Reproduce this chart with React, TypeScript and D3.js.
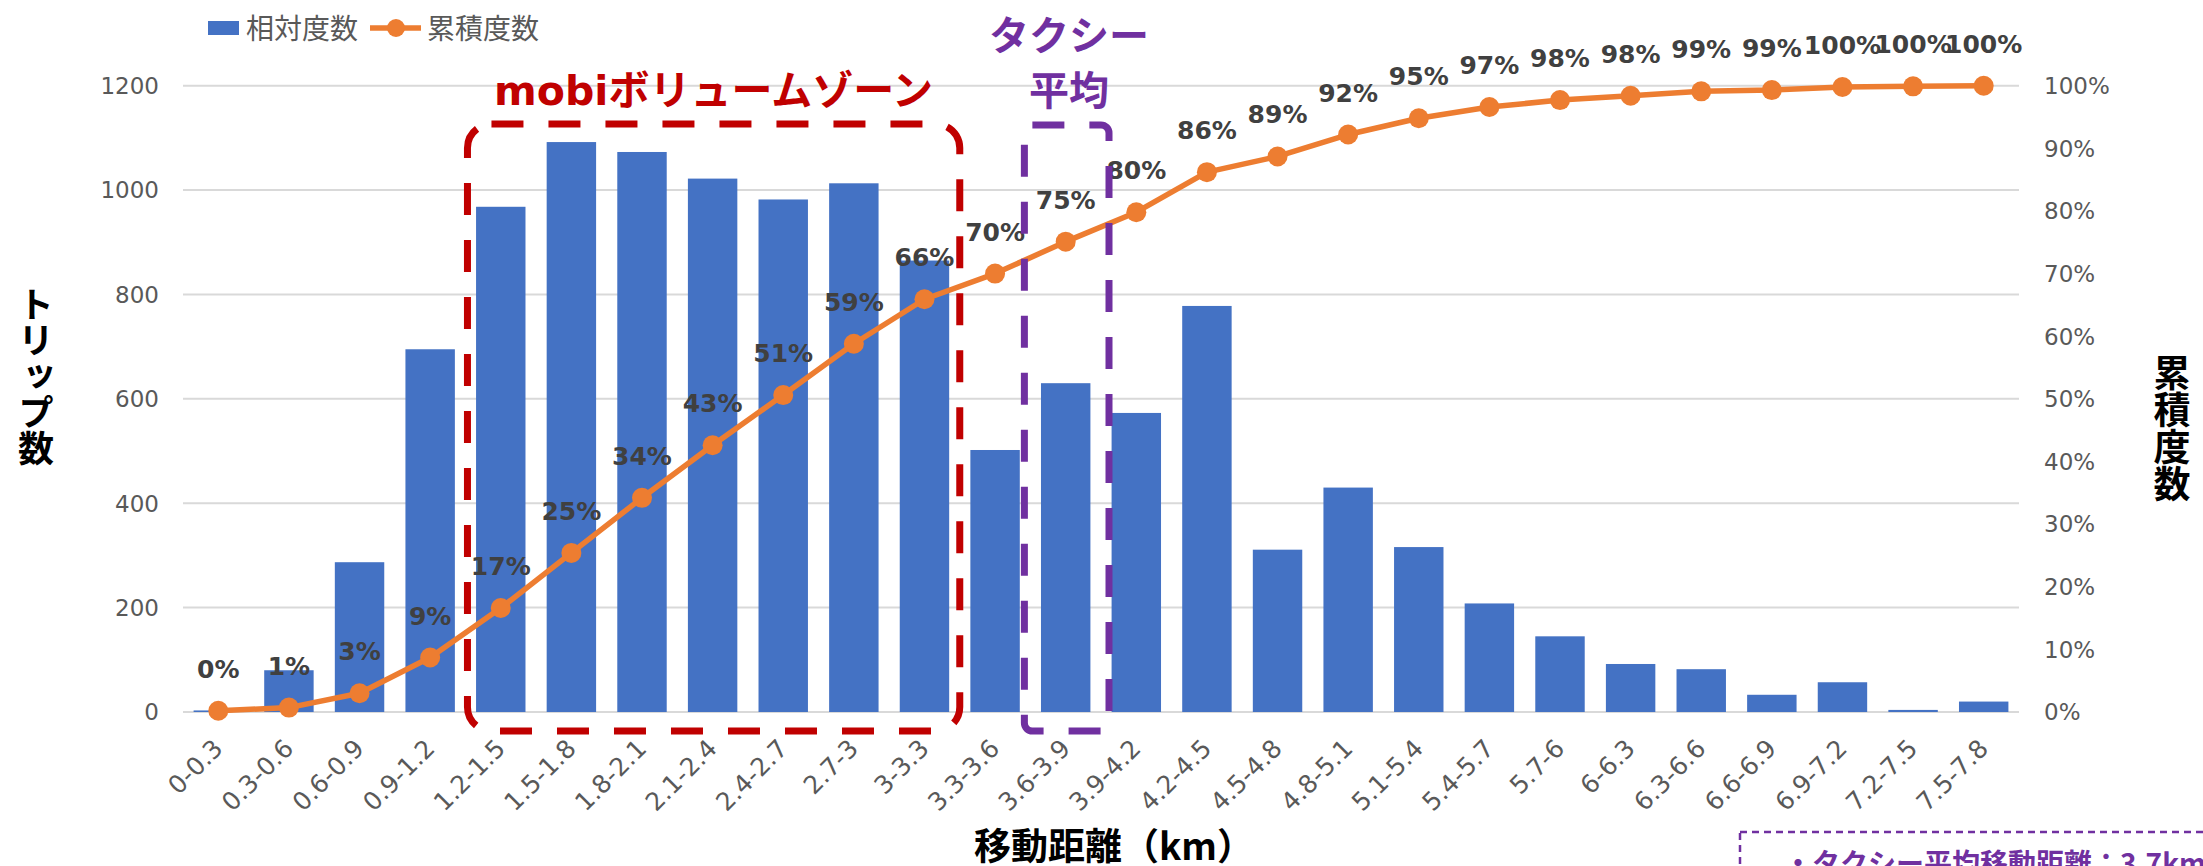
import React from "react";
import * as d3 from "d3";

const categories = ["0-0.3","0.3-0.6","0.6-0.9","0.9-1.2","1.2-1.5","1.5-1.8","1.8-2.1","2.1-2.4","2.4-2.7","2.7-3","3-3.3","3.3-3.6","3.6-3.9","3.9-4.2","4.2-4.5","4.5-4.8","4.8-5.1","5.1-5.4","5.4-5.7","5.7-6","6-6.3","6.3-6.6","6.6-6.9","6.9-7.2","7.2-7.5","7.5-7.8"];
const counts = [3, 80, 287, 695, 968, 1092, 1073, 1022, 982, 1013, 865, 502, 630, 573, 778, 311, 430, 316, 208, 145, 92, 82, 33, 57, 4, 20];
const cumulative = [0.002, 0.007, 0.030, 0.087, 0.166, 0.254, 0.342, 0.426, 0.506, 0.588, 0.659, 0.700, 0.751, 0.798, 0.862, 0.887, 0.922, 0.948, 0.966, 0.977, 0.984, 0.991, 0.993, 0.998, 0.999, 1.0];
const leftTicks = [0, 200, 400, 600, 800, 1000, 1200];
const rightTicks = [0, 0.1, 0.2, 0.3, 0.4, 0.5, 0.6, 0.7, 0.8, 0.9, 1.0];

const W = 2203, H = 866;
const M = { left: 183, right: 2019, top: 85.7, bottom: 712 };
const BLUE = "#4472C4", ORANGE = "#ED7D31", GRID = "#D9D9D9", TICK = "#595959";
const RED = "#C00000", PURPLE = "#7030A0";
const LATIN = "'DejaVu Sans', 'Noto Sans CJK JP', sans-serif";
const CJK = "'Noto Sans CJK JP', sans-serif";

export default function App() {
  const x = d3.scaleBand<string>().domain(categories).range([M.left, M.right]).paddingInner(0.3).paddingOuter(0.15);
  const step = x.step();
  const cx = (c: string) => (x(c) as number) + x.bandwidth() / 2;
  const yL = d3.scaleLinear().domain([0, 1200]).range([M.bottom, M.top]);
  const yR = d3.scaleLinear().domain([0, 1]).range([M.bottom, M.top]);
  const line = d3.line<number>().x((_, i) => cx(categories[i])).y((d) => yR(d));
  const pct = d3.format(".0%");

  // annotation boxes, anchored to category bands
  const redL = M.left + 4 * step + 2, redR = M.left + 11 * step;
  const purL = M.left + 12 * step - 6, purR = M.left + 13 * step + 8;

  return (
    <svg width={W} height={H} style={{ display: "block", position: "absolute", left: 0, top: 0, background: "#fff" }}>
      {/* gridlines */}
      {leftTicks.map((t) => (
        <line key={t} x1={M.left} x2={M.right} y1={yL(t)} y2={yL(t)} stroke={GRID} strokeWidth={2} />
      ))}
      {/* left ticks */}
      {leftTicks.map((t) => (
        <text key={t} x={159} y={yL(t)} dy="0.36em" textAnchor="end" fontFamily={LATIN} fontSize={23} fill={TICK}>{t}</text>
      ))}
      {/* right ticks */}
      {rightTicks.map((t) => (
        <text key={t} x={2044} y={yR(t)} dy="0.36em" textAnchor="start" fontFamily={LATIN} fontSize={23} fill={TICK}>{pct(t)}</text>
      ))}
      {/* bars */}
      {counts.map((v, i) => (
        <rect key={i} x={x(categories[i])} y={yL(v)} width={x.bandwidth()} height={yL(0) - yL(v)} fill={BLUE} />
      ))}
      {/* x tick labels */}
      {categories.map((c) => (
        <text key={c} transform={`translate(${cx(c) + 6},${750}) rotate(-45)`} textAnchor="end" fontFamily={LATIN} fontSize={25} fill={TICK}>{c}</text>
      ))}
      {/* cumulative line */}
      <path d={line(cumulative) as string} fill="none" stroke={ORANGE} strokeWidth={5.5} strokeLinejoin="round" />
      {cumulative.map((v, i) => (
        <circle key={i} cx={cx(categories[i])} cy={yR(v)} r={10} fill={ORANGE} />
      ))}
      {cumulative.map((v, i) => (
        <text key={i} x={cx(categories[i])} y={yR(v) - 33} textAnchor="middle" fontFamily={LATIN} fontWeight="bold" fontSize={25} fill="#404040">{pct(v)}</text>
      ))}

      {/* red annotation */}
      <rect x={redL} y={124} width={redR - redL} height={731 - 124} rx={24} ry={24} fill="none" stroke={RED} strokeWidth={7} strokeDasharray="32 25" />
      <text x={(redL + redR) / 2} y={105} textAnchor="middle" fontFamily={LATIN} fontWeight="bold" fontSize={41} fill={RED}>mobiボリュームゾーン</text>

      {/* purple annotation */}
      <rect x={purL} y={125} width={purR - purL} height={731 - 125} rx={8} ry={8} fill="none" stroke={PURPLE} strokeWidth={7} strokeDasharray="32 25" />
      <text x={1069} y={50} textAnchor="middle" fontFamily={CJK} fontWeight="bold" fontSize={40} fill={PURPLE}>タクシー</text>
      <text x={1069} y={105} textAnchor="middle" fontFamily={CJK} fontWeight="bold" fontSize={40} fill={PURPLE}>平均</text>

      {/* bottom-right note */}
      <rect x={1740} y={832} width={600} height={100} fill="none" stroke={PURPLE} strokeWidth={2.5} strokeDasharray="7 5" />
      <text x={1784} y={874} fontFamily={CJK} fontWeight="bold" fontSize={28} fill={PURPLE}>・タクシー平均移動距離：3.7km</text>

      {/* legend */}
      <rect x={208} y={21} width={31} height={14} fill={BLUE} />
      <text x={246} y={39} fontFamily={CJK} fontSize={28} fill={TICK}>相対度数</text>
      <line x1={370} x2={421} y1={28} y2={28} stroke={ORANGE} strokeWidth={5.5} />
      <circle cx={396} cy={28} r={9} fill={ORANGE} />
      <text x={427} y={39} fontFamily={CJK} fontSize={28} fill={TICK}>累積度数</text>

      {/* axis titles */}
      <text x={36} y={286} fontFamily={CJK} fontWeight="bold" fontSize={36} fill="#000" style={{ writingMode: "vertical-rl", textOrientation: "upright" } as any}>トリップ数</text>
      <text x={2172} y={354} fontFamily={CJK} fontWeight="bold" fontSize={37} fill="#000" style={{ writingMode: "vertical-rl", textOrientation: "upright" } as any}>累積度数</text>
      <text x={1114} y={860} textAnchor="middle" fontFamily={CJK} fontWeight="bold" fontSize={37} fill="#000">移動距離（km）</text>
    </svg>
  );
}
